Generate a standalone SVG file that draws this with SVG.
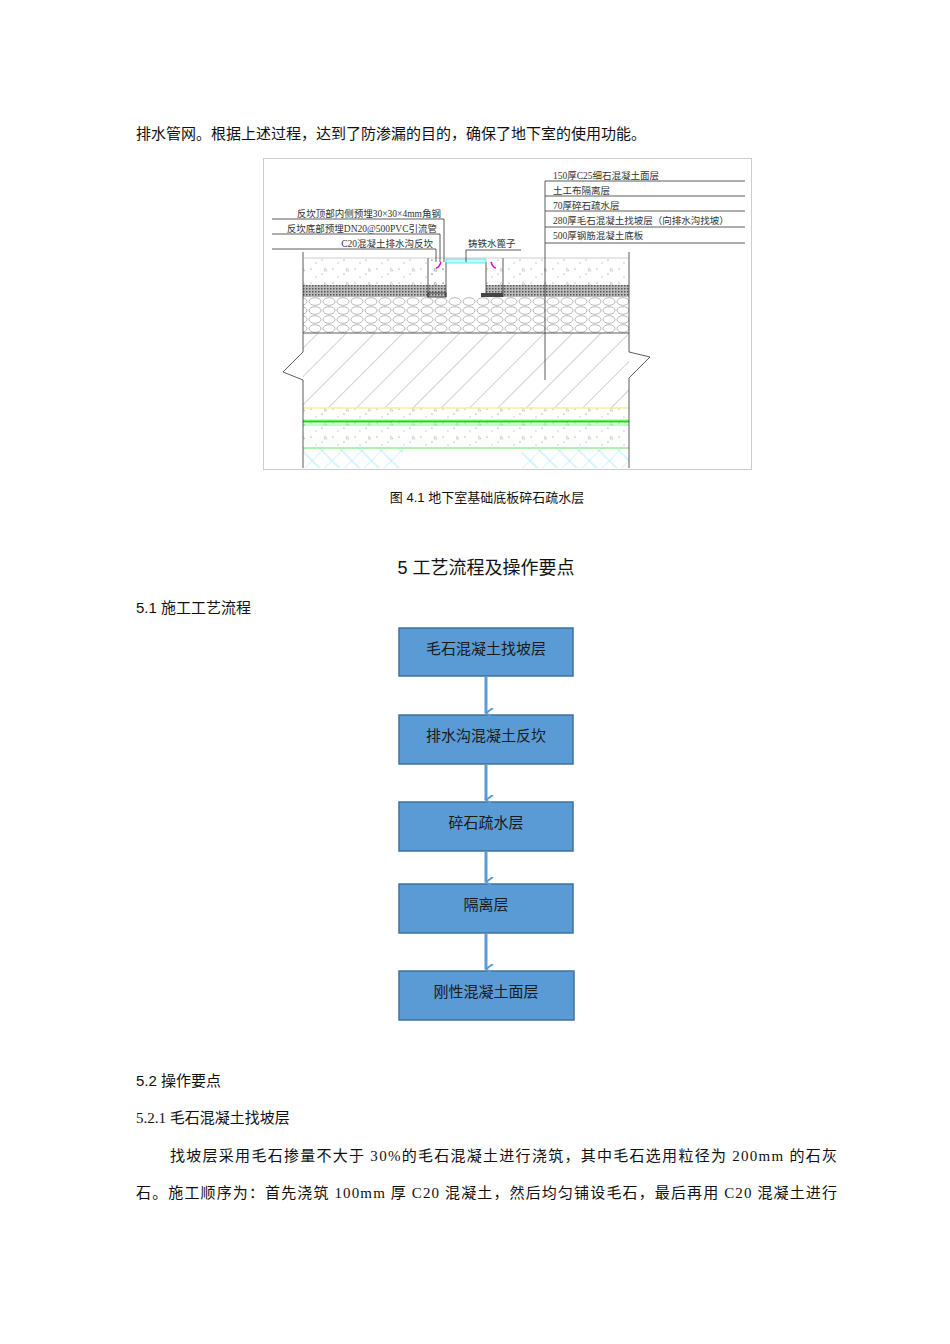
<svg xmlns="http://www.w3.org/2000/svg" width="950" height="1344" viewBox="0 0 950 1344">
<style>
.body{font-family:"Liberation Serif","Noto Sans CJK SC",serif;font-size:15px;fill:#111}
.sans{font-family:"Liberation Sans","Noto Sans CJK SC",sans-serif;fill:#111}
.lbl{font-family:"Liberation Serif","Noto Sans CJK SC",serif;font-size:9.5px;fill:#333}
.box rect{fill:#5b9bd5;stroke:#41719c;stroke-width:1.5}
.box text{font-family:"Liberation Serif","Noto Sans CJK SC",serif;font-size:15px;fill:#1a1a1a;text-anchor:middle}
.ln{stroke:#333;stroke-width:0.8;fill:none}
</style>
<defs>
<pattern id="conc" width="22" height="14" patternUnits="userSpaceOnUse"><circle cx="3" cy="3" r="0.6" fill="#777"/><circle cx="14" cy="8" r="0.6" fill="#777"/><circle cx="8" cy="11" r="0.5" fill="#777"/><path d="M17 2 l2 3 h-3z" fill="none" stroke="#999" stroke-width="0.4"/></pattern>
<pattern id="dark" width="3" height="3" patternUnits="userSpaceOnUse"><rect width="3" height="3" fill="#bbb"/><rect width="1.5" height="1.5" fill="#555"/></pattern>
<pattern id="grav" width="14" height="9" patternUnits="userSpaceOnUse"><ellipse cx="7" cy="4.5" rx="6" ry="3.8" fill="none" stroke="#888" stroke-width="0.6"/></pattern>
<pattern id="hatch" width="20" height="20" patternUnits="userSpaceOnUse" patternTransform="rotate(45)"><line x1="0" y1="0" x2="0" y2="20" stroke="#666" stroke-width="0.6"/></pattern>
<pattern id="cyan" width="14" height="14" patternUnits="userSpaceOnUse" patternTransform="rotate(45)"><path d="M0 0 V14 M0 7 H14" stroke="#7de" stroke-width="0.6" fill="none"/></pattern>
<marker id="ar" markerWidth="10" markerHeight="10" refX="5" refY="8" orient="auto" markerUnits="userSpaceOnUse"><path d="M0 1 L5 8 L10 1" fill="none" stroke="#5b9bd5" stroke-width="2"/></marker>
</defs>
<text class="body" x="136" y="139">排水管网。根据上述过程，达到了防渗漏的目的，确保了地下室的使用功能。</text>
<g id="figure">
<rect x="263.5" y="158.5" width="488" height="311" fill="#fff" stroke="#ccc"/>
<rect x="303" y="258" width="326" height="27" fill="url(#conc)"/>
<rect x="303" y="285" width="326" height="12" fill="url(#dark)"/>
<rect x="303" y="297" width="326" height="36" fill="url(#grav)"/>
<rect x="303" y="333" width="326" height="75" fill="url(#hatch)"/>
<rect x="303" y="408" width="326" height="40" fill="url(#conc)"/>
<rect x="303" y="449" width="100" height="19" fill="url(#cyan)"/>
<rect x="522" y="449" width="107" height="19" fill="url(#cyan)"/>
<line x1="303" y1="408" x2="629" y2="408" stroke="#f3eca0" stroke-width="1.5"/>
<line x1="303" y1="420" x2="629" y2="420" stroke="#7e7" stroke-width="0.8"/>
<line x1="303" y1="421.5" x2="629" y2="421.5" stroke="#1d1" stroke-width="2"/>
<line x1="303" y1="425" x2="629" y2="425" stroke="#7e7" stroke-width="0.8"/>
<line x1="303" y1="448" x2="629" y2="448" stroke="#3d3" stroke-width="0.8"/>
<rect x="428" y="258" width="58" height="39" fill="url(#conc)"/>
<rect x="446" y="259" width="40" height="38" fill="#fff"/>
<path d="M446 297 V270 Q466 262 486 270 V297" fill="#fff"/>
<line x1="428" y1="258" x2="428" y2="297" class="ln"/>
<line x1="446" y1="262" x2="446" y2="297" class="ln"/>
<line x1="486" y1="262" x2="486" y2="297" class="ln"/>
<line x1="503" y1="258" x2="503" y2="297" class="ln"/>
<rect x="446" y="259" width="40" height="4" fill="#bff" stroke="#3cc" stroke-width="0.6"/>
<path d="M441 262 q-2 6 -5 6 M491 262 q2 6 5 6" stroke="#e0e" stroke-width="1.5" fill="none"/>
<rect x="428" y="293" width="18" height="4" fill="none" stroke="#222" stroke-width="0.8"/>
<rect x="481" y="293" width="22" height="4" fill="#444"/>
<path d="M303 258 V352 L283 372 L303 380 V468 M629 258 V352 L650 357 L629 378 V468" class="ln"/>
<path d="M303 258 V252 M629 258 V252" class="ln"/>
<line x1="303" y1="258" x2="629" y2="258" stroke="#999" stroke-width="0.5"/>
<line x1="303" y1="333" x2="629" y2="333" class="ln"/>
<line x1="545" y1="181" x2="545" y2="380" class="ln"/>
<g class="ln"><line x1="545" y1="181" x2="745" y2="181"/><line x1="545" y1="196" x2="745" y2="196"/><line x1="545" y1="211" x2="745" y2="211"/><line x1="545" y1="227" x2="745" y2="227"/><line x1="545" y1="243" x2="745" y2="243"/>
<polyline points="272,219 444,219 444,262"/><polyline points="272,234 440,234 440,262"/><polyline points="272,249 436,249 436,262"/><polyline points="521,250 466,250 466,262"/></g>
<text class="lbl" x="553" y="179">150厚C25细石混凝土面层</text>
<text class="lbl" x="553" y="194">土工布隔离层</text>
<text class="lbl" x="553" y="209">70厚碎石疏水层</text>
<text class="lbl" x="553" y="224">280厚毛石混凝土找坡层（向排水沟找坡）</text>
<text class="lbl" x="553" y="239">500厚钢筋混凝土底板</text>
<text class="lbl" x="441" y="217" text-anchor="end">反坎顶部内侧预埋30×30×4mm角钢</text>
<text class="lbl" x="437" y="232" text-anchor="end">反坎底部预埋DN20@500PVC引流管</text>
<text class="lbl" x="433" y="247" text-anchor="end">C20混凝土排水沟反坎</text>
<text class="lbl" x="468" y="247">铸铁水篦子</text>
</g>
<text class="sans" x="487" y="502" font-size="13" text-anchor="middle">图 4.1  地下室基础底板碎石疏水层</text>
<text class="sans" x="486" y="574" font-size="18" text-anchor="middle">5  工艺流程及操作要点</text>
<text class="sans" x="136" y="613" font-size="15">5.1 施工工艺流程</text>
<g id="n1" class="box"><rect x="399" y="628" width="174" height="48"/><text x="486" y="654">毛石混凝土找坡层</text></g>
<g id="n2" class="box"><rect x="399" y="715" width="174" height="49"/><text x="486" y="741">排水沟混凝土反坎</text></g>
<g id="n3" class="box"><rect x="399" y="802" width="174" height="49"/><text x="486" y="828">碎石疏水层</text></g>
<g id="n4" class="box"><rect x="399" y="884" width="174" height="49"/><text x="486" y="910">隔离层</text></g>
<g id="n5" class="box"><rect x="399" y="971" width="175" height="49"/><text x="486" y="997">刚性混凝土面层</text></g>
<g id="connectors" stroke="#5b9bd5" stroke-width="3" fill="none">
<line x1="486" y1="677" x2="486" y2="713" marker-end="url(#ar)"/>
<line x1="486" y1="765" x2="486" y2="800" marker-end="url(#ar)"/>
<line x1="486" y1="852" x2="486" y2="882" marker-end="url(#ar)"/>
<line x1="486" y1="934" x2="486" y2="969" marker-end="url(#ar)"/>
</g>
<text class="sans" x="136" y="1086" font-size="15">5.2 操作要点</text>
<text class="body" x="136" y="1123">5.2.1 毛石混凝土找坡层</text>
<text class="body" x="170" y="1161" textLength="667" lengthAdjust="spacing">找坡层采用毛石掺量不大于 30%的毛石混凝土进行浇筑，其中毛石选用粒径为 200mm 的石灰</text>
<text class="body" x="136" y="1198" textLength="701" lengthAdjust="spacing">石。施工顺序为：首先浇筑 100mm 厚 C20 混凝土，然后均匀铺设毛石，最后再用 C20 混凝土进行</text>
</svg>
